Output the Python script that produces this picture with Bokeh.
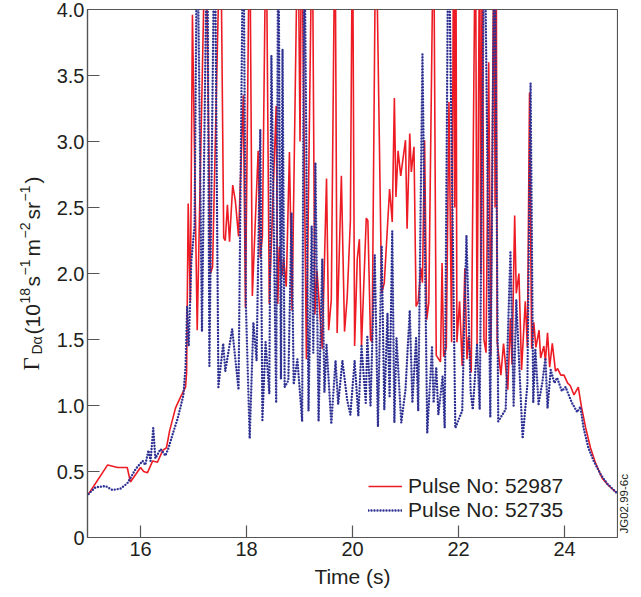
import numpy as np
from bokeh.plotting import figure
from bokeh.layouts import row
from bokeh.models import Range1d, FixedTicker, Legend, LegendItem, Plot, ColumnDataSource, Text
from bokeh.core.properties import value
from bokeh.embed import file_html
from bokeh.resources import INLINE

# ---- data ----
t_52987 = [15.02, 15.38, 15.57, 15.75, 15.81, 16.00, 16.06, 16.13, 16.23, 16.32, 16.42, 16.49, 16.55,
           16.66, 16.75, 16.85, 16.87, 16.90, 16.94, 16.98, 17.07, 17.23, 17.32, 17.36, 17.51, 17.57,
           17.60, 17.64, 17.68, 17.74, 17.79, 17.85, 17.94, 17.98, 18.06, 18.11, 18.22, 18.26, 18.30,
           18.37, 18.43, 18.56, 18.59, 18.62, 18.67, 18.70, 18.75, 18.81, 18.86, 18.97, 19.01, 19.04,
           19.13, 19.24, 19.29, 19.33, 19.43, 19.51, 19.55, 19.60, 19.67, 19.71, 19.79, 19.85, 19.90,
           19.96, 20.00, 20.04, 20.09, 20.13, 20.17, 20.26, 20.29, 20.34, 20.37, 20.44, 20.55, 20.60,
           20.70, 20.75, 20.79, 20.82, 20.86, 20.91, 21.00, 21.03, 21.08, 21.11, 21.16, 21.20, 21.24,
           21.29, 21.32, 21.36, 21.40, 21.44, 21.53, 21.58, 21.66, 21.69, 21.72, 21.77, 21.82, 21.87,
           21.91, 21.93, 21.95, 21.97, 22.02, 22.07, 22.12, 22.16, 22.19, 22.24, 22.32, 22.35, 22.40,
           22.42, 22.45, 22.48, 22.52, 22.57, 22.61, 22.67, 22.69, 22.71, 22.73, 22.80, 22.85, 22.93,
           22.98, 23.01, 23.06, 23.09, 23.14, 23.19, 23.26, 23.30, 23.34, 23.38, 23.42, 23.46, 23.52,
           23.55, 23.61, 23.64, 23.68, 23.72, 23.77, 23.83, 23.87, 23.93, 23.99, 24.06, 24.11, 24.18,
           24.26, 24.32, 24.40, 24.49, 24.58, 24.71, 24.84, 24.98]
v_52987 = [0.33, 0.55, 0.53, 0.53, 0.42, 0.53, 0.50, 0.49, 0.58, 0.57, 0.66, 0.68, 0.81,
           0.98, 1.06, 1.14, 1.25, 2.53, 1.78, 3.96, 1.57, 4.80, 2.00, 2.05, 4.80, 2.27,
           2.25, 2.52, 2.24, 2.67, 2.55, 2.28, 3.35, 1.74, 4.80, 1.83, 2.93, 2.12, 2.28,
           4.80, 1.77, 3.27, 1.77, 2.20, 1.98, 2.11, 1.90, 2.92, 1.72, 4.80, 3.00, 4.80,
           1.35, 4.80, 1.69, 2.02, 1.43, 2.72, 1.57, 1.80, 4.80, 1.55, 2.74, 1.56, 1.82,
           2.40, 4.80, 1.45, 2.11, 2.26, 1.45, 2.42, 2.40, 1.50, 1.48, 4.80, 1.85, 1.93,
           2.64, 2.39, 3.33, 2.58, 2.93, 2.74, 3.01, 2.34, 3.06, 2.77, 2.96, 1.75, 1.79,
           2.04, 1.93, 3.01, 1.65, 1.78, 4.80, 1.38, 1.33, 2.08, 1.37, 1.44, 3.30, 1.48,
           4.80, 2.50, 4.80, 1.48, 1.79, 1.30, 2.04, 1.35, 1.52, 1.25, 4.80, 1.46, 4.80,
           2.00, 4.80, 1.50, 1.40, 3.60, 1.38, 4.80, 2.50, 4.80, 1.48, 1.23, 1.47, 1.12,
           1.66, 1.31, 2.44, 1.85, 2.00, 1.27, 1.79, 1.44, 3.37, 1.43, 1.63, 1.44, 1.57,
           1.36, 1.45, 1.34, 1.55, 1.29, 1.47, 1.26, 1.28, 1.23, 1.23, 1.17, 1.15, 1.08,
           1.14, 0.99, 0.83, 0.68, 0.57, 0.45, 0.39, 0.34]

t_52735 = [15.02, 15.15, 15.34, 15.47, 15.62, 15.75, 15.81, 15.91, 16.04, 16.09, 16.15, 16.19, 16.24,
           16.28, 16.38, 16.47, 16.53, 16.62, 16.70, 16.75, 16.81, 16.85, 16.88, 16.91, 16.96, 17.02,
           17.07, 17.16, 17.26, 17.30, 17.40, 17.47, 17.56, 17.60, 17.73, 17.85, 17.94, 17.99, 18.06,
           18.13, 18.19, 18.26, 18.30, 18.36, 18.43, 18.47, 18.56, 18.60, 18.65, 18.68, 18.72, 18.79,
           18.85, 18.89, 18.96, 19.05, 19.09, 19.17, 19.23, 19.26, 19.30, 19.36, 19.43, 19.47, 19.51,
           19.60, 19.68, 19.73, 19.81, 19.90, 19.96, 20.04, 20.11, 20.17, 20.25, 20.28, 20.34, 20.42,
           20.48, 20.55, 20.60, 20.66, 20.70, 20.75, 20.79, 20.83, 20.92, 21.00, 21.08, 21.13, 21.20,
           21.24, 21.32, 21.41, 21.50, 21.53, 21.58, 21.62, 21.70, 21.74, 21.81, 21.94, 22.07, 22.15,
           22.23, 22.27, 22.35, 22.40, 22.49, 22.60, 22.68, 22.75, 22.89, 22.98, 23.04, 23.09, 23.21,
           23.30, 23.36, 23.41, 23.45, 23.51, 23.58, 23.64, 23.68, 23.74, 23.81, 23.86, 23.95, 24.02,
           24.14, 24.24, 24.30, 24.36, 24.45, 24.55, 24.68, 24.80, 24.98]
v_52735 = [0.33, 0.38, 0.39, 0.36, 0.37, 0.41, 0.45, 0.52, 0.58, 0.55, 0.66, 0.58, 0.83,
           0.60, 0.67, 0.62, 0.68, 0.80, 0.90, 0.98, 1.08, 1.30, 1.75, 1.45, 2.10, 2.36,
           4.80, 1.56, 4.80, 1.30, 4.80, 1.14, 1.47, 1.26, 1.58, 1.12, 4.80, 1.74, 0.75,
           1.63, 1.34, 3.09, 0.89, 1.48, 1.09, 3.65, 1.02, 4.80, 1.20, 3.70, 1.14, 1.19,
           2.46, 1.16, 1.35, 0.88, 4.80, 0.96, 2.36, 1.40, 2.84, 0.88, 2.11, 1.10, 1.46,
           0.86, 1.34, 1.01, 1.34, 1.04, 0.93, 1.34, 0.92, 1.45, 1.02, 1.52, 1.00, 2.14,
           0.84, 2.21, 0.97, 1.70, 1.06, 2.32, 0.87, 1.51, 0.87, 1.12, 1.72, 1.02, 1.51,
           0.96, 3.66, 0.79, 1.44, 1.02, 1.29, 0.93, 1.22, 0.83, 4.80, 0.83, 0.96, 2.29,
           1.10, 0.97, 1.46, 0.97, 4.80, 0.91, 4.80, 0.88, 0.97, 2.17, 1.00, 1.80, 0.75,
           1.16, 3.44, 1.02, 1.43, 1.01, 1.17, 1.36, 0.98, 1.27, 1.17, 1.21, 1.11, 1.14,
           1.02, 0.95, 0.99, 0.83, 0.68, 0.58, 0.48, 0.41, 0.34]

series_labels = ["Pulse No: 52987", "Pulse No: 52735"]
x_ticks = [16, 18, 20, 22, 24]
y_ticks = [0, 0.5, 1.0, 1.5, 2.0, 2.5, 3.0, 3.5, 4.0]
y_tick_labels = ["0", "0.5", "1.0", "1.5", "2.0", "2.5", "3.0", "3.5", "4.0"]
x_label = "Time (s)"
stamp = "JG02.99-6c"

RED = "#ed1c24"
BLUE = "#2e3192"
AXIS = "#555555"
TXT = "#231f20"
FONT = "Liberation Sans"
H = 590
BT, BB = 9, 53          # top / bottom borders shared by all panels
YMAX = 4.0

# ---------------- main plot ----------------
p = figure(width=568, height=H, output_backend="svg", toolbar_location=None,
           x_range=Range1d(15, 25), y_range=Range1d(0, YMAX),
           min_border_left=37, min_border_right=1, min_border_top=BT, min_border_bottom=BB)
p.grid.visible = False
p.outline_line_color = AXIS
p.outline_line_width = 1.2

r_red = p.line(t_52987, v_52987, line_color=RED, line_width=1.6)
r_blue = p.line(t_52735, v_52735, line_color=BLUE, line_width=2.4, line_dash="0 3", line_cap="round")

for ax in (p.xaxis[0], p.yaxis[0]):
    ax.axis_line_color = AXIS
    ax.axis_line_width = 1.2
    ax.major_tick_line_color = AXIS
    ax.major_tick_line_width = 1.2
    ax.major_tick_in = 12
    ax.major_tick_out = 0
    ax.minor_tick_line_color = None
    ax.major_label_text_font = FONT
    ax.major_label_text_font_size = "20px"
    ax.major_label_text_color = TXT

p.xaxis.ticker = FixedTicker(ticks=x_ticks)
p.xaxis.major_label_standoff = 4
p.xaxis.axis_label = x_label
p.xaxis.axis_label_text_font = FONT
p.xaxis.axis_label_text_font_size = "21px"
p.xaxis.axis_label_text_font_style = "normal"
p.xaxis.axis_label_text_color = TXT
p.xaxis.axis_label_standoff = 6

p.yaxis.ticker = FixedTicker(ticks=y_ticks)
p.yaxis.major_label_overrides = {t: s for t, s in zip(y_ticks, y_tick_labels)}
p.yaxis.major_label_standoff = 3

legend = Legend(items=[LegendItem(label=series_labels[0], renderers=[r_red]),
                       LegendItem(label=series_labels[1], renderers=[r_blue])],
                location=(281, 15), orientation="vertical",
                glyph_width=34, glyph_height=24, label_height=24, label_standoff=6,
                spacing=0, padding=0, margin=0,
                border_line_color=None, background_fill_alpha=0,
                label_text_font=FONT, label_text_font_size="21px", label_text_color=TXT)
p.add_layout(legend)

# frame height in px, used to place the side texts on the same vertical scale as the plot
FRAME_H = H - BT - BB
def page_to_val(py):
    return (H - BB - py) * YMAX / FRAME_H

def blank_panel(w):
    return Plot(width=w, height=H, output_backend="svg", toolbar_location=None, title=None,
                x_range=Range1d(0, w), y_range=Range1d(0, YMAX),
                min_border_left=0, min_border_right=0, min_border_top=BT, min_border_bottom=BB,
                outline_line_color=None)

def add_text(panel, x, py, txt, size_px, font):
    # baseline wanted at x; rotated text is anchored near mid-height, so shift toward glyph tops
    ax = x - 0.38 * size_px
    src = ColumnDataSource(dict(x=[ax], y=[page_to_val(py)], text=[txt]))
    panel.add_glyph(src, Text(x="x", y="y", text="text", angle=np.pi / 2,
                              text_font=value(font), text_font_size=value(f"{size_px}px"),
                              text_color=TXT, text_align="left", text_baseline="alphabetic"))

# ---------------- y-axis title panel (left) ----------------
pl = blank_panel(50)
# (text, start position along the axis (page px from top), baseline x, size, font)
pieces = [
    ("Γ", 370, 40, 23, "Liberation Serif"),
    ("Dα", 354, 42, 14, FONT),
    ("(10", 334, 40, 21, FONT),
    ("18", 303, 30, 14, FONT),
    ("s", 286, 40, 21, FONT),
    ("−1", 275, 30, 14, FONT),
    ("m", 256, 40, 21, FONT),
    ("−2", 238, 30, 14, FONT),
    ("sr", 219, 40, 21, FONT),
    ("−1", 201, 30, 14, FONT),
    (")", 183, 40, 21, FONT),
]
for txt, pos, bx, size, font in pieces:
    add_text(pl, bx, pos, txt, size, font)

# ---------------- stamp panel (right) ----------------
pr = blank_panel(22)
add_text(pr, 10, 533, stamp, 11.5, FONT)

layout = row(pl, p, pr)
open("out.html", "w").write(file_html(layout, INLINE))
